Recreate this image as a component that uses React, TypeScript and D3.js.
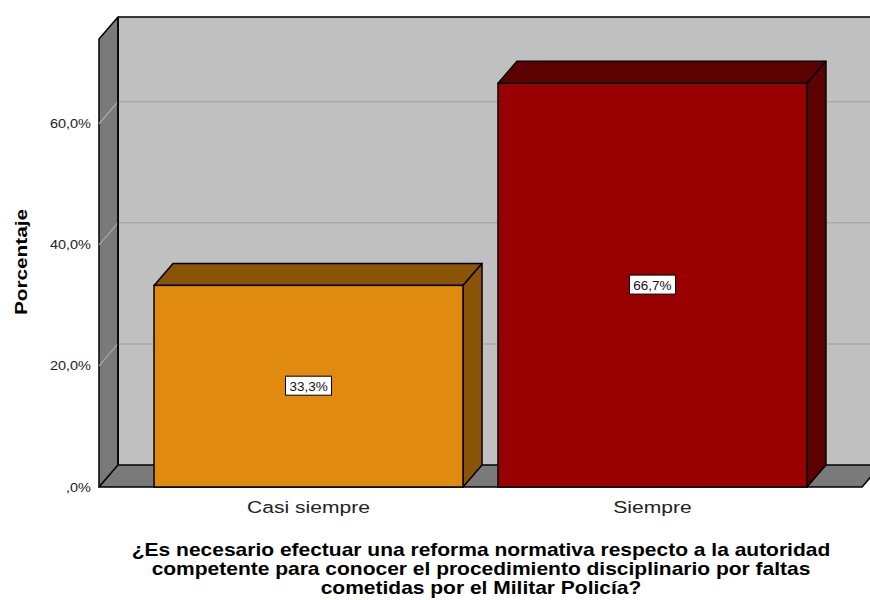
import React from "react";
import * as d3 from "d3";

const categories = ["Casi siempre", "Siempre"];
const values = [33.3, 66.7];
const valueLabels = ["33,3%", "66,7%"];
const yTicks = [0, 20, 40, 60];
const yTickLabels = [",0%", "20,0%", "40,0%", "60,0%"];
const frontColors = ["#e08a10", "#990000"];
const darkColors = ["#8a5408", "#5c0000"];
const xTitleLines = [
  "¿Es necesario efectuar una reforma normativa respecto a la autoridad",
  "competente para conocer el procedimiento disciplinario por faltas",
  "cometidas por el Militar Policía?",
];

const W = 870;
const H = 600;
const DX = 19;
const DY = 22;
const X0 = 99;
const X1 = 862;
const Y0 = 487;

function T(props: {
  x: number;
  y: number;
  sx: number;
  rot?: number;
  anchor: string;
  size: number;
  bold?: boolean;
  fill?: string;
  children: React.ReactNode;
}) {
  const { x, y, sx, rot = 0, anchor, size, bold, fill = "#000", children } = props;
  return (
    <text
      transform={`translate(${x},${y}) rotate(${rot}) scale(${sx},1)`}
      textAnchor={anchor}
      fontSize={size}
      fontWeight={bold ? "bold" : "normal"}
      fill={fill}
    >
      {children}
    </text>
  );
}

export default function App() {
  const y = d3.scaleLinear().domain([0, 74]).range([Y0, 39]);
  const x = d3
    .scaleBand<string>()
    .domain(categories)
    .range([X0, X1])
    .paddingInner(0.1017)
    .paddingOuter(0.16);
  const top = y(74);
  const font = "Arial, 'Liberation Sans', sans-serif";
  const pts = (a: number[][]) => a.map((p) => p.join(",")).join(" ");
  return (
    <svg
      width={W}
      height={H}
      style={{ position: "absolute", left: 0, top: 0, background: "#fff" }}
      fontFamily={font}
    >
      {/* back wall */}
      <rect x={X0 + DX} y={top - DY} width={W} height={Y0 - top} fill="#c0c0c0" />
      {yTicks
        .filter((t) => t > 0)
        .map((t) => (
          <line key={t} x1={X0 + DX} x2={W + 20} y1={y(t) - DY} y2={y(t) - DY} stroke="#a9a9a9" strokeWidth={1.5} />
        ))}
      <line x1={X0 + DX} x2={W + 20} y1={top - DY} y2={top - DY} stroke="#000" strokeWidth={1.5} />
      {/* left wall */}
      <polygon
        points={pts([[X0, top], [X0 + DX, top - DY], [X0 + DX, Y0 - DY], [X0, Y0]])}
        fill="#7a7a7a"
        stroke="#000"
        strokeWidth={1.5}
        strokeLinejoin="round"
      />
      {yTicks.map((t) => (
        <line key={t} x1={X0} y1={y(t)} x2={X0 + DX} y2={y(t) - DY} stroke="#a9a9a9" strokeWidth={1.2} />
      ))}
      {/* floor */}
      <polygon
        points={pts([[X0, Y0], [X0 + DX, Y0 - DY], [X1 + DX, Y0 - DY], [X1, Y0]])}
        fill="#7a7a7a"
        stroke="#000"
        strokeWidth={1.5}
        strokeLinejoin="round"
      />
      <line x1={X0 + DX} x2={X0 + DX} y1={top - DY} y2={Y0 - DY} stroke="#000" strokeWidth={1.5} />
      {/* y ticks */}
      {yTicks.map((t, i) => (
        <T key={t} x={91} y={y(t) + 4.5} sx={1.16} anchor="end" size={12.5} fill="#222">
          {yTickLabels[i]}
        </T>
      ))}
      {/* bars */}
      {categories.map((c, i) => {
        const bx = x(c)!;
        const bw = x.bandwidth();
        const by = y(values[i]);
        const cx = bx + bw / 2;
        const cy = (by + Y0) / 2;
        return (
          <g key={c}>
            <polygon
              points={pts([[bx, by], [bx + DX, by - DY], [bx + bw + DX, by - DY], [bx + bw, by]])}
              fill={darkColors[i]}
              stroke="#000"
              strokeWidth={1.5}
              strokeLinejoin="round"
            />
            <polygon
              points={pts([[bx + bw, by], [bx + bw + DX, by - DY], [bx + bw + DX, Y0 - DY], [bx + bw, Y0]])}
              fill={darkColors[i]}
              stroke="#000"
              strokeWidth={1.5}
              strokeLinejoin="round"
            />
            <rect x={bx} y={by} width={bw} height={Y0 - by} fill={frontColors[i]} stroke="#000" strokeWidth={1.5} />
            <rect x={cx - 23} y={cy - 10} width={46} height={19} fill="#fff" stroke="#000" strokeWidth={1} />
            <T x={cx} y={cy + 4.5} sx={1.08} anchor="middle" size={12.5} fill="#111">
              {valueLabels[i]}
            </T>
            <T x={cx} y={513} sx={1.24} anchor="middle" size={17} fill="#222">
              {c}
            </T>
          </g>
        );
      })}
      {/* y title */}
      <T x={27} y={262} rot={-90} sx={1.26} anchor="middle" size={16.5} bold>
        Porcentaje
      </T>
      {/* x title */}
      {xTitleLines.map((l, i) => (
        <T key={i} x={481} y={556 + i * 19} sx={1.2} anchor="middle" size={17.5} bold>
          {l}
        </T>
      ))}
    </svg>
  );
}
